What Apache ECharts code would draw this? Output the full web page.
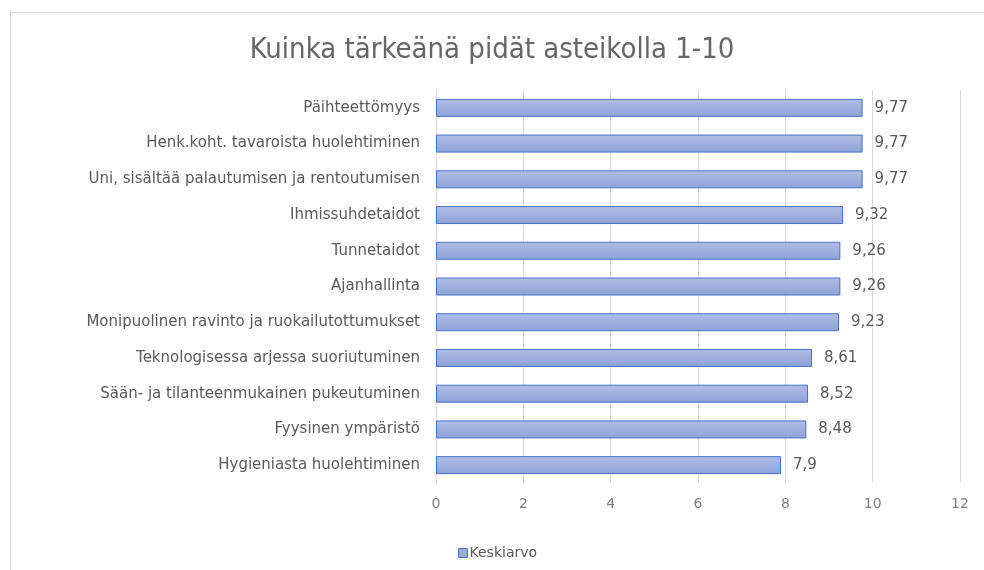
<!DOCTYPE html>
<html>
<head>
<meta charset="utf-8">
<script src="https://cdn.jsdelivr.net/npm/echarts@6/dist/echarts.min.js"></script>
<style>
html,body{margin:0;padding:0;background:#fff;}
#chart{width:984px;height:570px;}
</style>
</head>
<body>
<div id="chart"></div>
<script>
// categories listed bottom -> top (category axis on y starts at the bottom)
var categories = [
    'Hygieniasta huolehtiminen',
    'Fyysinen ympäristö',
    'Sään- ja tilanteenmukainen pukeutuminen',
    'Teknologisessa arjessa suoriutuminen',
    'Monipuolinen ravinto ja ruokailutottumukset',
    'Ajanhallinta',
    'Tunnetaidot',
    'Ihmissuhdetaidot',
    'Uni, sisältää palautumisen ja rentoutumisen',
    'Henk.koht. tavaroista huolehtiminen',
    'Päihteettömyys'
];
var keskiarvo = [7.9, 8.48, 8.52, 8.61, 9.23, 9.26, 9.26, 9.32, 9.77, 9.77, 9.77];
var xTicks = [0, 2, 4, 6, 8, 10, 12];

var myChart = echarts.init(document.getElementById('chart'));
var option = {
    backgroundColor: '#fff',
    animation: false,
    title: {
        text: 'Kuinka tärkeänä pidät asteikolla 1-10',
        left: 'center',
        top: 31,
        textStyle: {
            fontFamily: 'Liberation Sans Narrow, DejaVu Sans Condensed, sans-serif',
            fontSize: 29,
            fontWeight: 'normal',
            color: '#666666'
        }
    },
    graphic: [{
        type: 'rect',
        shape: {x: 10.5, y: 12.5, width: 1000, height: 600},
        style: {fill: 'none', stroke: '#d9d9d9', lineWidth: 1},
        silent: true
    }],
    legend: {
        left: 453,
        top: 541,
        icon: 'rect',
        itemWidth: 9,
        itemHeight: 9,
        itemGap: 4,
        itemStyle: {color: '#9aace0', borderColor: '#4472c4', borderWidth: 1},
        textStyle: {fontFamily: 'DejaVu Sans', fontSize: 14, color: '#595959', padding: [0, 0, 0, -3]},
        data: ['Keskiarvo']
    },
    grid: {left: 436, right: 24, top: 90, bottom: 87},
    xAxis: {
        type: 'value',
        min: xTicks[0],
        max: xTicks[xTicks.length - 1],
        interval: 2,
        axisLine: {show: false},
        axisTick: {show: false},
        axisLabel: {fontFamily: 'DejaVu Sans', fontSize: 14, color: '#7f7f7f', margin: 14},
        splitLine: {lineStyle: {color: '#d9d9d9', width: 1}}
    },
    yAxis: {
        type: 'category',
        data: categories,
        axisLine: {show: true, lineStyle: {color: '#d9d9d9'}},
        axisTick: {show: false},
        axisLabel: {fontFamily: 'DejaVu Sans', fontSize: 15, color: '#595959', margin: 16}
    },
    series: [{
        name: 'Keskiarvo',
        type: 'bar',
        data: keskiarvo,
        barWidth: 18,
        itemStyle: {
            color: new echarts.graphic.LinearGradient(0, 0, 0, 1, [
                {offset: 0, color: '#b0bee6'},
                {offset: 1, color: '#8ea2d6'}
            ]),
            borderColor: '#4472c4',
            borderWidth: 1
        },
        label: {
            show: true,
            position: 'right',
            distance: 12,
            fontFamily: 'DejaVu Sans',
            fontSize: 15,
            color: '#595959',
            formatter: function (p) {
                return String(p.value).replace('.', ',');
            }
        }
    }]
};
myChart.setOption(option);
</script>
</body>
</html>
